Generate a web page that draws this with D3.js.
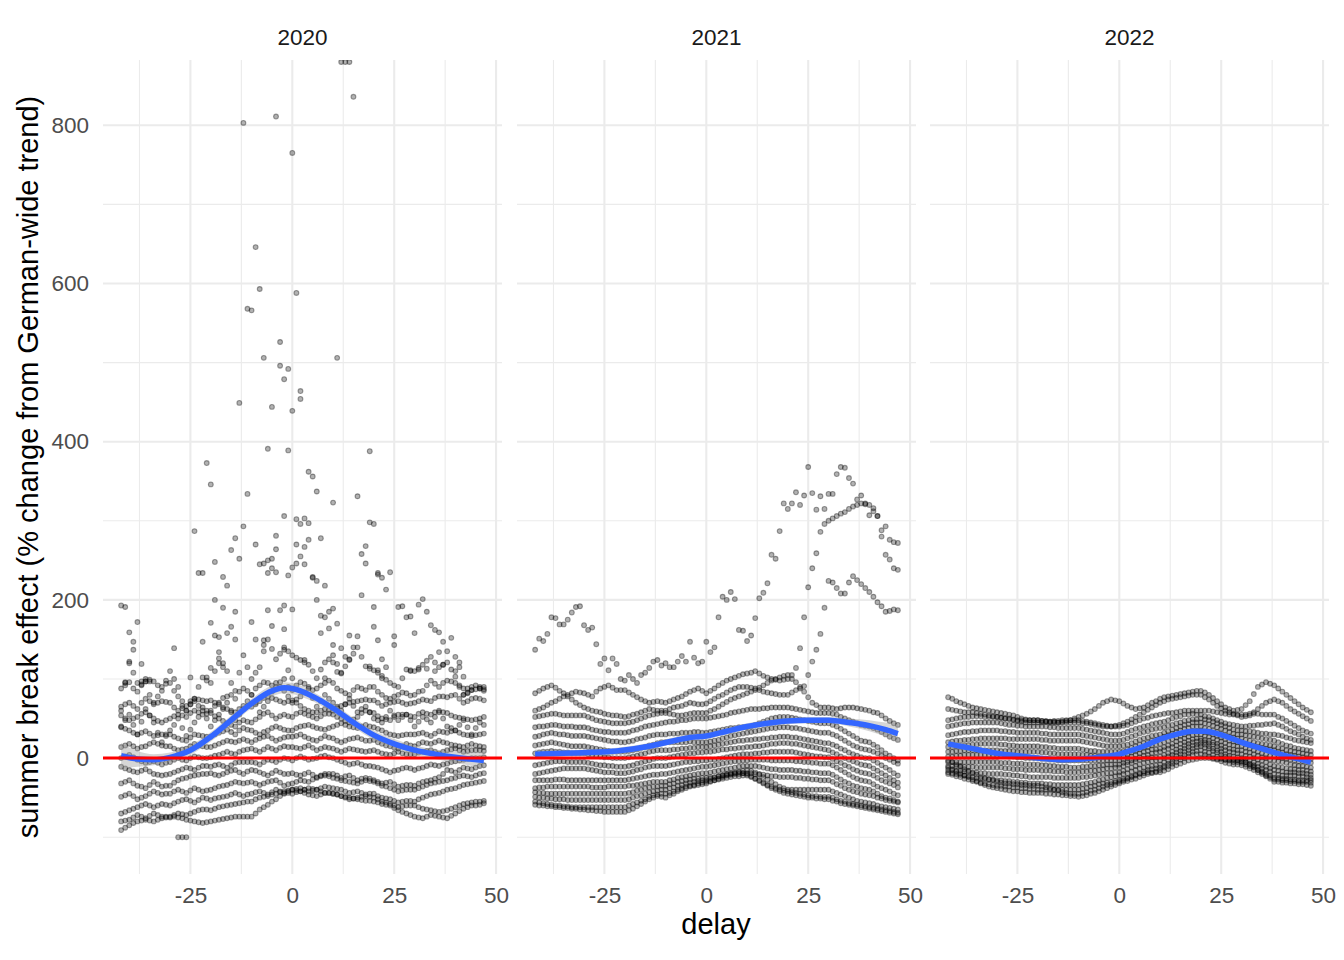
<!DOCTYPE html>
<html>
<head>
<meta charset="utf-8">
<script src="https://cdn.jsdelivr.net/npm/d3@7"></script>
<style>
  body { margin: 0; background: #fff; }
  text { font-family: "Liberation Sans", Arial, Helvetica, sans-serif; }
</style>
</head>
<body>
<svg id="chart"></svg>
<script>
var years = ["2020", "2021", "2022"]
var xTicks = [-25, 0, 25, 50]
var xMinor = [-37.5, -12.5, 12.5, 37.5]
var yTicks = [0, 200, 400, 600, 800]
var yMinor = [-100, 100, 300, 500, 700]

// delays the tracks are read at: even days, then odd days
var delays = [-42,-40,-38,-36,-34,-32,-30,-28,-26,-24,-22,-20,-18,-16,-14,-12,-10,-8,-6,-4,-2,0,2,4,6,8,10,12,14,16,18,20,22,24,26,28,30,32,34,36,38,40,42,44,46]
var oddDelays = [-41,-39,-37,-35,-33,-31,-29,-27,-25,-23,-21,-19,-17,-15,-13,-11,-9,-7,-5,-3,-1,1,3,5,7,9,11,13,15,17,19,21,23,25,27,29,31,33,35,37,39,41,43,45,47]

// 2020: one row per state (even days)
var tracks2020 = [
  [88,96,84,97,97,90,95,78,60,72,64,60,70,78,75,88,80,92,95,90,100,86,96,90,88,95,95,85,80,90,86,90,80,75,80,82,80,85,98,90,98,95,88,90,90],
  [65,70,62,75,68,72,70,60,66,75,73,73,68,62,58,66,65,72,78,74,70,73,66,60,58,62,60,66,70,72,74,73,66,70,72,68,70,74,72,78,77,80,70,75,75],
  [54,48,52,58,50,45,50,55,52,60,55,57,50,44,40,48,45,52,58,50,55,52,58,54,50,56,55,50,45,52,60,57,50,48,55,55,52,58,55,60,57,52,50,48,50],
  [39,35,30,34,28,30,30,25,22,30,28,27,32,36,30,38,35,30,35,40,36,35,40,42,38,36,40,44,40,38,42,39,35,30,28,30,30,32,28,34,32,35,30,28,30],
  [14,18,12,15,20,16,15,10,12,18,15,14,18,22,20,24,20,25,28,22,26,27,30,25,22,28,25,20,24,26,22,23,18,15,12,18,15,20,18,22,19,16,14,18,15],
  [0,4,-2,-6,-4,-8,-5,0,-3,2,0,1,4,8,5,10,12,8,14,10,15,14,12,16,10,14,12,8,12,10,8,10,6,4,8,5,5,8,10,6,10,12,8,10,10],
  [-11,-15,-18,-14,-20,-22,-20,-16,-12,-15,-10,-11,-8,-12,-6,-5,-5,-8,-2,-5,0,-3,2,-2,0,3,0,-4,-8,-6,-10,-11,-14,-18,-15,-12,-15,-12,-8,-10,-7,-4,-2,0,0],
  [-32,-28,-35,-38,-30,-36,-35,-28,-25,-22,-20,-19,-22,-18,-15,-20,-15,-18,-22,-16,-20,-19,-22,-18,-24,-20,-20,-25,-22,-28,-25,-28,-32,-30,-36,-34,-35,-30,-28,-24,-15,-18,-12,-14,-10],
  [-49,-45,-52,-48,-42,-46,-45,-40,-44,-38,-42,-40,-36,-34,-30,-32,-30,-34,-30,-28,-35,-32,-28,-30,-25,-22,-25,-28,-30,-32,-28,-30,-35,-38,-42,-40,-40,-36,-32,-30,-28,-25,-22,-24,-20],
  [-70,-66,-62,-58,-62,-58,-60,-55,-52,-56,-50,-53,-50,-48,-44,-48,-45,-42,-46,-40,-44,-45,-42,-38,-40,-36,-38,-40,-44,-42,-46,-45,-50,-52,-56,-54,-55,-50,-46,-44,-40,-38,-34,-32,-30],
  [-80,-78,-72,-76,-70,-74,-75,-70,-72,-68,-65,-66,-62,-60,-58,-56,-55,-50,-48,-45,-42,-40,-42,-46,-48,-44,-45,-48,-52,-50,-48,-50,-55,-58,-62,-60,-60,-64,-66,-68,-66,-62,-58,-56,-55],
  [-91,-85,-80,-78,-80,-76,-74,-75,-78,-80,-82,-80,-78,-76,-74,-74,-74,-65,-59,-52,-45,-40,-38,-42,-40,-44,-45,-48,-50,-52,-54,-55,-58,-60,-66,-70,-74,-76,-72,-74,-76,-70,-64,-60,-59],
  [60,120,95,100,70,85,110,90,60,75,102,95,120,110,85,130,100,115,150,125,140,130,124,118,101,121,130,108,125,140,116,111,104,95,90,112,110,118,128,115,121,103,80,86,88],
  [40,55,30,62,45,20,35,50,28,45,60,40,55,70,48,62,80,58,72,95,85,70,78,88,65,80,70,60,75,58,65,50,45,60,48,55,40,52,45,58,40,35,48,30,45]
]
// 2020, same states, odd days
var tracks2020Odd = [
  [92,88,93,99,92,94,85,66,68,66,60,66,76,80,84,85,88,96,92,96,90,92,94,86,92,98,88,82,86,88,90,84,76,78,83,79,84,92,94,95,97,90,88,92,87],
  [68,66,70,72,70,71,64,63,72,74,72,70,64,60,62,66,68,76,76,72,72,70,62,58,60,61,63,68,71,73,73,70,68,71,70,69,72,73,76,78,79,75,72,76,73],
  [50,50,56,54,47,48,53,54,57,58,56,53,47,42,45,46,49,56,54,53,53,56,56,52,53,56,52,47,49,57,58,53,49,52,55,53,56,56,58,58,54,51,49,49,52],
  [37,32,32,31,29,30,27,23,26,29,27,30,34,33,35,36,32,33,38,38,35,38,41,40,37,38,42,42,39,40,40,37,32,29,29,30,31,30,31,33,34,32,29,29,31],
  [16,15,14,18,18,15,12,11,15,16,14,16,20,21,22,22,23,27,25,24,27,28,27,23,25,26,22,22,25,24,22,20,16,13,15,16,18,19,20,20,17,15,16,16,14],
  [2,1,-4,-5,-6,-6,-2,-2,0,1,0,3,6,6,8,11,10,11,12,13,14,13,14,13,12,13,10,10,11,9,9,8,5,6,6,5,7,9,8,8,11,10,9,10,9],
  [-13,-17,-16,-17,-21,-21,-18,-14,-13,-12,-10,-9,-10,-9,-5,-5,-6,-5,-3,-2,-1,0,0,-1,2,1,-2,-6,-7,-8,-10,-12,-16,-16,-13,-13,-13,-10,-9,-8,-5,-3,-1,0,1],
  [-30,-32,-36,-34,-33,-35,-31,-26,-23,-21,-20,-21,-20,-16,-18,-17,-16,-20,-19,-18,-20,-21,-20,-21,-22,-20,-22,-23,-25,-26,-26,-30,-31,-33,-35,-34,-32,-29,-26,-20,-16,-15,-13,-12,-9],
  [-47,-48,-50,-45,-44,-45,-42,-42,-41,-40,-41,-38,-35,-32,-31,-31,-32,-32,-29,-31,-33,-30,-29,-27,-23,-23,-26,-29,-31,-30,-29,-32,-36,-40,-41,-40,-38,-34,-31,-29,-26,-23,-23,-22,-19],
  [-68,-64,-60,-60,-60,-59,-57,-53,-54,-53,-51,-51,-49,-46,-46,-46,-43,-44,-43,-42,-44,-43,-40,-39,-38,-37,-39,-42,-43,-44,-45,-48,-51,-54,-55,-54,-52,-48,-45,-42,-39,-36,-33,-31,-29],
  [-79,-75,-74,-73,-72,-74,-72,-71,-70,-66,-65,-64,-61,-59,-57,-55,-52,-49,-46,-43,-41,-41,-44,-47,-46,-44,-46,-50,-51,-49,-49,-52,-56,-60,-61,-60,-62,-65,-67,-67,-64,-60,-57,-55,-54],
  [-88,-82,-79,-79,-78,-75,-74,-76,-79,-81,-81,-79,-77,-75,-74,-74,-70,-62,-55,-48,-42,-39,-40,-41,-42,-44,-46,-49,-51,-53,-54,-56,-59,-63,-68,-72,-75,-74,-73,-75,-73,-67,-62,-60,-57],
  [95,108,92,80,78,98,100,72,68,90,98,110,115,95,108,115,108,135,138,132,135,127,121,110,112,125,119,116,132,128,113,108,99,92,101,111,114,123,121,118,112,92,83,87,85],
  [48,42,46,54,32,28,42,38,36,52,50,48,62,58,55,72,70,65,84,90,78,74,83,76,72,75,65,68,66,62,58,48,52,54,52,48,46,49,52,50,38,42,39,38,42]
]

// 2020: scattered high values, [delay, effect]
var extra2020 = [
  [12,880],[13,880],[14,880],[15,836],[-12,803],[-4,811],[0,765],[-9,646],[-8,593],[1,588],[-11,568],[-10,566],
  [-3,526],[-7,506],[11,506],[-3,496],[-1,492],[-2,479],[2,464],[2,454],[-13,449],[-5,444],[0,439],[-6,391],
  [-1,389],[19,388],[-21,373],[-20,346],[-11,334],[4,362],[5,356],[6,337],[10,323],[16,331],[-2,306],[1,302],
  [3,303],[2,296],[4,297],[19,298],[20,296],[-24,287],[-12,293],[-14,278],[-9,270],[-4,281],[-4,264],[1,270],
  [3,267],[4,276],[7,278],[18,268],[17,258],[18,246],[-15,263],[-13,252],[-19,248],[-8,245],[-7,246],[-6,250],
  [-5,252],[-6,234],[-4,235],[-5,240],[0,241],[1,246],[3,245],[2,255],[-23,234],[-22,234],[-17,229],[-1,231],
  [5,229],[21,234],[22,228],[24,235],[-16,218],[-19,200],[-17,190],[-14,185],[-20,171],[-19,155],[-18,153],
  [-16,158],[-14,150],[-15,166],[-22,147],[-18,134],[-18,126],[-20,114],[-17,120],[-21,102],[-25,102],[-29,139],
  [-10,172],[-9,150],[-7,149],[-7,143],[-6,187],[-5,167],[-3,187],[-2,193],[-2,163],[0,188],[-2,137],[-1,111],
  [0,101],[5,228],[6,224],[8,218],[6,200],[7,180],[8,178],[9,185],[10,189],[11,170],[7,158],[9,164],[10,143],
  [12,139],[14,155],[16,154],[15,140],[13,128],[14,124],[10,121],[11,109],[12,107],[3,124],[8,101],[17,206],
  [20,191],[21,232],[23,213],[21,149],[20,166],[19,116],[21,111],[22,125],[23,115],[22,101],[25,154],[25,143],
  [26,191],[27,192],[28,178],[29,179],[30,158],[31,194],[32,201],[33,185],[34,168],[35,162],[36,159],[37,147],
  [39,152],[36,134],[38,135],[40,128],[41,121],[41,115],[40,110],[42,103],[29,110],[31,112],[33,113],[35,110],
  [37,118],[46,88],[47,90],[44,86],[43,82],[42,80],[-42,193],[-41,191],[-40,159],[-39,147],[-39,137],[-38,172],
  [-37,119],[-40,122],[-41,96],[-37,97],[-36,97],[-35,97],[-28,-100],[-27,-100],[-26,-100]
]

var tracks2021 = [
  [137,148,178,169,175,191,168,165,119,111,119,98,100,105,114,124,120,115,129,147,120,147,140,204,210,162,148,177,209,257,287,315,336,332,335,331,334,359,367,347,332,307,306,293,273],
  [60,64,70,75,80,84,82,78,88,92,86,86,80,74,70,72,70,74,78,84,88,82,88,95,100,104,107,110,104,100,98,100,114,178,240,286,300,306,311,318,322,320,306,257,240],
  [82,88,92,85,78,70,64,60,58,55,54,52,55,58,62,60,60,64,66,70,68,69,75,80,86,90,90,88,84,82,80,80,86,91,122,157,224,215,208,230,220,210,197,185,188],
  [52,54,56,55,54,54,54,50,47,45,44,44,46,50,54,56,57,55,54,56,57,57,62,68,74,78,82,86,92,98,102,105,96,84,70,64,64,62,64,64,62,60,57,50,44],
  [39,40,42,41,40,39,39,36,34,33,32,32,35,38,41,43,45,46,48,49,50,50,52,54,57,59,61,62,63,64,64,64,62,60,58,57,57,55,50,46,42,40,36,30,25],
  [27,30,32,30,29,28,28,26,24,22,21,20,22,25,28,30,30,31,32,32,33,32,34,36,38,39,39,42,46,50,52,52,50,48,46,44,44,40,34,28,22,20,14,6,0],
  [16,18,20,18,16,15,15,13,11,9,8,8,10,13,16,19,20,20,20,21,20,20,22,25,28,30,32,34,36,38,39,39,38,36,34,32,32,28,22,16,12,10,6,0,-5],
  [6,8,9,8,7,6,6,4,2,1,0,0,2,5,8,10,10,11,12,13,14,14,16,18,20,22,23,24,25,26,27,27,26,24,22,20,19,15,10,5,1,0,-6,-12,-19],
  [-9,-7,-5,-4,-5,-5,-5,-7,-9,-10,-11,-11,-9,-6,-3,0,0,2,4,6,7,8,9,11,12,13,14,15,16,18,19,19,18,16,14,12,10,5,0,-4,-8,-10,-16,-22,-28],
  [-20,-18,-16,-14,-13,-13,-13,-15,-17,-18,-19,-19,-17,-14,-11,-10,-10,-8,-6,-5,-4,-3,-2,0,2,4,5,6,7,8,8,8,7,5,3,2,1,-4,-9,-14,-18,-20,-25,-30,-34],
  [-28,-28,-28,-27,-28,-28,-28,-28,-28,-28,-28,-28,-26,-24,-22,-21,-20,-18,-16,-14,-12,-11,-9,-7,-5,-4,-3,-2,-2,-3,-3,-3,-4,-5,-6,-7,-7,-12,-18,-24,-28,-30,-36,-40,-45],
  [-38,-37,-36,-36,-36,-36,-36,-37,-37,-36,-36,-36,-35,-33,-31,-30,-30,-27,-24,-22,-20,-19,-17,-15,-13,-11,-10,-10,-12,-14,-15,-15,-16,-17,-18,-19,-19,-24,-30,-35,-38,-40,-45,-50,-53],
  [-43,-44,-45,-45,-45,-45,-45,-45,-45,-45,-45,-45,-43,-40,-37,-36,-35,-32,-29,-27,-26,-25,-24,-22,-21,-20,-19,-20,-21,-23,-24,-24,-25,-26,-27,-28,-28,-33,-38,-42,-45,-47,-50,-53,-55],
  [-49,-50,-51,-52,-53,-53,-53,-53,-53,-53,-53,-53,-50,-47,-43,-41,-40,-37,-34,-31,-29,-28,-25,-22,-19,-17,-15,-18,-24,-30,-36,-40,-40,-40,-40,-40,-40,-44,-48,-52,-55,-57,-60,-62,-64],
  [-55,-57,-59,-60,-61,-62,-62,-62,-62,-62,-62,-62,-58,-54,-49,-46,-45,-42,-38,-35,-32,-30,-28,-26,-24,-23,-22,-26,-31,-36,-40,-42,-44,-46,-48,-49,-49,-52,-55,-58,-60,-62,-64,-66,-68],
  [-59,-60,-61,-62,-63,-64,-65,-66,-67,-68,-68,-68,-64,-58,-52,-48,-50,-45,-40,-36,-34,-32,-28,-24,-20,-18,-20,-26,-32,-38,-42,-45,-47,-49,-50,-51,-52,-55,-58,-60,-62,-64,-66,-68,-70]
]
var tracks2021Odd = [
  [151,157,177,169,184,192,162,144,126,126,100,105,95,108,122,117,115,122,122,127,122,134,178,200,201,161,155,202,221,252,322,322,320,368,314,315,334,368,354,327,322,316,288,276,272],
  [62,67,72,78,82,83,80,84,90,89,86,83,77,72,71,71,72,76,81,86,85,85,92,98,102,106,108,107,102,99,99,105,139,216,259,296,303,309,315,320,321,312,280,251,238],
  [85,90,89,82,74,67,62,59,56,54,53,53,56,60,61,60,62,65,68,69,68,72,78,83,88,90,89,86,83,81,80,83,88,105,137,190,222,208,222,225,215,204,192,186,187],
  [53,55,56,54,54,54,52,48,46,44,44,45,48,52,55,57,56,54,55,57,57,60,65,71,76,80,84,89,95,100,104,100,90,77,67,64,63,63,64,63,61,58,54,47,42],
  [40,41,42,40,40,39,38,35,33,32,32,33,36,40,42,44,46,47,48,50,50,51,53,55,58,60,62,62,63,64,64,63,61,59,57,57,56,52,48,44,41,38,33,27,23],
  [28,31,31,30,28,28,27,25,23,21,20,21,24,26,29,30,31,31,32,33,32,33,35,37,38,39,40,44,48,51,52,51,49,47,45,44,42,37,31,25,21,17,10,3,-3],
  [17,19,19,17,15,15,14,12,10,8,8,9,11,14,17,20,20,20,20,20,20,21,23,26,29,31,33,35,37,38,39,38,37,35,33,32,30,25,19,14,11,8,3,-2,-7],
  [7,8,8,7,6,6,5,3,1,0,0,1,3,6,9,10,10,11,12,13,14,15,17,19,21,22,23,24,25,26,27,26,25,23,21,19,17,12,7,3,0,-3,-9,-15,-22],
  [-8,-6,-4,-4,-5,-5,-6,-8,-9,-10,-11,-10,-7,-4,-1,0,1,3,5,6,7,8,10,11,12,13,14,15,17,18,19,18,17,15,13,11,7,2,-2,-6,-9,-13,-19,-25,-31],
  [-19,-17,-15,-13,-13,-13,-14,-16,-18,-18,-19,-18,-15,-12,-10,-10,-9,-7,-5,-4,-3,-2,-1,1,3,5,5,6,7,8,8,8,6,4,2,1,-1,-6,-11,-16,-19,-22,-28,-32,-37],
  [-28,-28,-27,-27,-28,-28,-28,-28,-28,-28,-28,-27,-25,-23,-21,-20,-19,-17,-15,-13,-11,-10,-8,-6,-4,-3,-2,-2,-2,-3,-3,-3,-4,-5,-6,-7,-9,-15,-21,-26,-29,-33,-38,-42,-47],
  [-37,-36,-36,-36,-36,-36,-36,-37,-37,-36,-36,-35,-34,-32,-30,-30,-28,-25,-23,-21,-19,-18,-16,-14,-12,-10,-10,-11,-13,-14,-15,-15,-16,-17,-18,-19,-21,-27,-32,-36,-39,-42,-48,-51,-55],
  [-44,-45,-45,-45,-45,-45,-45,-45,-45,-45,-45,-44,-41,-38,-36,-35,-33,-30,-28,-26,-25,-24,-23,-21,-20,-19,-19,-20,-22,-23,-24,-24,-25,-26,-27,-28,-30,-35,-40,-43,-46,-48,-51,-54,-56],
  [-50,-51,-52,-52,-53,-53,-53,-53,-53,-53,-53,-52,-48,-45,-42,-40,-38,-35,-32,-30,-28,-26,-23,-20,-18,-16,-16,-21,-27,-33,-38,-40,-40,-40,-40,-40,-42,-46,-50,-54,-56,-58,-61,-63,-65],
  [-56,-58,-60,-61,-62,-62,-62,-62,-62,-62,-62,-60,-56,-52,-47,-45,-44,-40,-36,-34,-31,-29,-27,-25,-23,-22,-24,-28,-34,-38,-41,-43,-45,-47,-48,-49,-50,-54,-57,-59,-61,-63,-65,-67,-69],
  [-60,-61,-62,-63,-64,-65,-66,-67,-68,-68,-68,-66,-61,-55,-50,-49,-47,-42,-38,-35,-33,-30,-26,-22,-19,-19,-23,-29,-35,-40,-44,-46,-48,-50,-51,-52,-54,-57,-59,-61,-63,-65,-67,-69,-71]
]

var tracks2022 = [
  [77,72,68,64,62,60,58,56,54,50,48,48,46,45,46,48,52,56,62,70,74,72,66,62,64,70,75,78,80,82,84,85,80,72,64,60,62,72,90,96,92,84,76,68,61],
  [62,60,58,58,56,54,52,50,49,48,48,48,47,46,45,45,45,44,42,40,40,42,46,52,58,64,70,74,76,78,80,80,74,66,60,56,52,54,62,70,74,70,62,56,50],
  [48,50,52,53,53,52,52,50,48,46,45,45,46,47,48,48,48,46,44,42,40,40,42,46,50,53,55,57,58,60,60,60,60,58,56,55,55,56,56,55,55,50,44,38,33],
  [40,42,44,45,45,45,45,43,42,41,40,40,40,39,38,38,38,36,34,32,30,30,33,37,40,43,45,48,52,55,56,55,52,48,44,42,40,41,42,43,44,40,34,30,25],
  [29,31,33,34,35,35,35,34,33,32,32,32,31,30,30,30,30,28,26,24,22,22,25,29,33,36,38,41,44,47,49,50,48,44,40,36,35,34,32,31,30,28,25,22,20],
  [20,22,23,24,25,25,25,25,24,24,24,24,23,22,22,22,22,20,18,16,15,15,17,21,25,28,30,34,38,42,45,45,43,39,35,31,30,28,26,24,22,18,15,12,10],
  [14,15,16,17,18,18,18,17,16,15,15,15,14,13,12,12,12,10,9,8,8,8,11,15,19,22,25,29,33,37,40,40,37,33,29,26,25,22,19,17,15,12,9,7,5],
  [8,9,10,10,10,10,10,9,9,8,8,8,7,6,5,5,5,4,3,2,2,2,5,9,13,16,18,22,26,30,34,35,32,28,24,21,20,17,14,12,10,7,4,2,0],
  [2,3,4,4,4,4,4,3,2,1,0,0,-1,-2,-3,-3,-3,-3,-3,-3,-3,-3,0,4,8,11,12,16,21,25,29,30,27,23,19,16,15,12,8,5,2,0,-2,-4,-5],
  [-5,-5,-5,-5,-5,-5,-5,-6,-7,-7,-8,-8,-9,-10,-11,-12,-12,-11,-10,-9,-8,-8,-5,-1,3,6,8,12,16,20,24,25,22,18,14,11,10,7,3,0,-3,-5,-8,-10,-11],
  [-10,-10,-11,-11,-12,-12,-12,-13,-14,-14,-15,-15,-16,-17,-17,-18,-18,-17,-16,-14,-13,-12,-8,-4,-1,1,2,6,11,16,20,22,19,15,10,7,5,2,-2,-5,-10,-12,-14,-15,-16],
  [-15,-16,-17,-18,-19,-20,-20,-21,-22,-23,-24,-24,-24,-25,-25,-25,-25,-24,-22,-20,-19,-18,-14,-10,-6,-4,-3,2,7,12,16,18,15,10,5,2,0,-3,-7,-11,-15,-17,-18,-19,-20],
  [-18,-20,-22,-24,-26,-27,-28,-29,-30,-31,-32,-32,-33,-34,-34,-34,-34,-32,-30,-27,-24,-22,-19,-15,-12,-10,-8,-3,3,8,12,15,12,7,2,-2,-4,-7,-11,-15,-20,-22,-22,-23,-24],
  [-20,-23,-26,-29,-31,-33,-35,-36,-37,-38,-39,-40,-40,-40,-40,-40,-40,-38,-35,-32,-30,-28,-25,-21,-17,-14,-12,-7,-1,4,8,10,7,2,-2,-5,-6,-10,-15,-20,-25,-26,-27,-28,-28],
  [-12,-17,-22,-27,-32,-36,-38,-40,-42,-43,-44,-44,-45,-46,-47,-48,-49,-47,-44,-40,-36,-32,-29,-26,-22,-19,-15,-10,-5,0,4,5,2,-2,-6,-8,-9,-13,-18,-23,-30,-31,-32,-33,-34],
  [-3,-8,-14,-19,-24,-27,-30,-32,-33,-34,-35,-35,-37,-40,-43,-45,-45,-43,-40,-36,-33,-30,-26,-22,-19,-18,-18,-14,-9,-5,-2,0,0,-1,-2,-2,-2,-8,-15,-22,-27,-28,-29,-30,-30]
]
var tracks2022Odd = [
  [75,70,66,63,61,59,57,55,52,49,48,47,45,45,47,50,54,59,66,72,73,69,64,63,67,72,77,79,81,83,85,83,76,68,62,61,67,81,93,94,88,80,72,64,58],
  [61,59,58,57,55,53,51,50,48,48,48,47,46,45,45,45,44,43,41,40,41,44,49,55,61,67,72,75,77,79,80,77,70,63,58,54,53,58,66,72,72,66,59,53,47],
  [49,51,52,53,52,52,51,49,47,45,45,45,46,47,48,48,47,45,43,41,40,41,44,48,51,54,56,57,59,60,60,60,59,57,55,55,55,56,55,55,52,47,41,35,31],
  [41,43,44,45,45,45,44,42,41,40,40,40,39,38,38,38,37,35,33,31,30,31,35,38,41,44,46,50,53,55,55,53,50,46,43,41,40,41,42,43,42,37,32,27,23],
  [30,32,33,34,35,35,34,33,32,32,32,31,30,30,30,30,29,27,25,23,22,23,27,31,34,37,39,42,45,48,49,49,46,42,38,35,34,33,31,30,29,26,23,21,19],
  [21,22,23,24,25,25,25,24,24,24,24,23,22,22,22,22,21,19,17,15,15,16,19,23,26,29,32,36,40,43,45,44,41,37,33,30,29,27,25,23,20,16,13,11,9],
  [14,15,16,17,18,18,17,16,15,15,15,14,13,12,12,12,11,9,8,8,8,9,13,17,20,23,27,31,35,38,40,38,35,31,27,25,23,20,18,16,13,10,8,6,4],
  [8,9,10,10,10,10,9,9,8,8,8,7,6,5,5,5,4,3,2,2,2,3,7,11,14,17,20,24,28,32,34,33,30,26,22,20,18,15,13,11,8,5,3,1,-1],
  [2,3,4,4,4,4,3,2,1,0,0,-1,-2,-3,-3,-3,-3,-3,-3,-3,-3,-2,2,6,9,11,14,18,23,27,30,28,25,21,17,15,13,10,6,3,1,-1,-3,-4,-6],
  [-5,-5,-5,-5,-5,-5,-6,-6,-7,-8,-8,-9,-10,-11,-11,-12,-11,-10,-9,-8,-8,-6,-3,1,4,7,10,14,18,22,25,23,20,16,12,10,8,5,1,-2,-4,-6,-9,-10,-12],
  [-10,-10,-11,-12,-12,-12,-12,-13,-14,-15,-15,-16,-16,-17,-18,-18,-17,-16,-15,-13,-12,-10,-6,-2,0,1,4,8,13,18,21,20,17,12,8,6,3,0,-3,-8,-11,-13,-14,-15,-17],
  [-15,-16,-17,-18,-19,-20,-20,-21,-22,-23,-24,-24,-24,-25,-25,-25,-24,-23,-21,-19,-18,-16,-12,-8,-5,-3,0,4,9,14,17,17,12,8,3,1,-1,-5,-9,-13,-16,-18,-18,-19,-21],
  [-19,-21,-23,-25,-26,-27,-28,-29,-30,-31,-32,-32,-33,-34,-34,-34,-33,-31,-28,-25,-23,-20,-17,-13,-11,-9,-5,0,5,10,14,13,9,4,0,-3,-5,-9,-13,-17,-21,-22,-22,-23,-25],
  [-21,-24,-27,-30,-32,-34,-35,-36,-37,-38,-39,-40,-40,-40,-40,-40,-39,-36,-33,-31,-29,-26,-23,-19,-15,-13,-10,-4,1,6,9,8,4,0,-3,-5,-8,-12,-17,-22,-25,-26,-27,-28,-28],
  [-14,-19,-24,-29,-34,-37,-39,-41,-42,-43,-44,-44,-45,-46,-47,-48,-48,-45,-42,-38,-34,-30,-27,-24,-20,-17,-12,-7,-2,2,5,4,0,-4,-7,-8,-11,-15,-20,-26,-30,-31,-32,-33,-35],
  [-5,-11,-16,-21,-25,-28,-31,-32,-33,-34,-35,-36,-38,-41,-44,-45,-44,-41,-38,-34,-31,-28,-24,-20,-18,-18,-16,-11,-7,-3,-1,0,-1,-1,-2,-2,-5,-11,-18,-24,-27,-28,-29,-30,-31]
]

// loess fits: [delay, fit, half-width of band]
var smooth2020 = [[-42,3,16],[-38,-1,10],[-34,-2,7],[-30,1,6],[-25,10,6],[-20,27,6],[-15,48,6],[-10,69,6],[-5,85,7],[-2,89,7],[0,88,7],[2,85,7],[5,78,6],[10,63,6],[15,45,6],[20,29,6],[25,18,6],[30,10,6],[35,5,6],[40,1,7],[47,-3,10]]
var smooth2021 = [[-42,5,6],[-35,6,4],[-30,7,4],[-22,9,4],[-14,15,4],[-8,22,4],[-4,26,4],[0,28,4],[5,34,4],[10,40,4],[15,44,4],[20,47,4],[25,48,4],[30,48,4],[35,45,5],[40,41,7],[44,36,9],[47,31,12]]
var smooth2022 = [[-42,18,5],[-38,14,4],[-34,10,3],[-30,6,3],[-25,3,3],[-20,0,3],[-14,-2,3],[-10,-1.5,3],[-5,1,3],[0,5,3],[2.5,9,3],[6,15,3],[10,24,3],[14,30,3],[18,34,3],[21,34,3],[24,31,3],[27,26,3],[30,20,3],[35,12,3],[40,4,3],[44,-1,4],[47,-5,5]]

var panelData = [
  { year: years[0], tracks: tracks2020, odd: tracks2020Odd, extra: extra2020, smooth: smooth2020 },
  { year: years[1], tracks: tracks2021, odd: tracks2021Odd, extra: [], smooth: smooth2021 },
  { year: years[2], tracks: tracks2022, odd: tracks2022Odd, extra: [], smooth: smooth2022 }
]

var dimensions = {
  width: 1344,
  height: 960,
  panelTop: 60,
  panelBottom: 874,
  panelWidth: 399,
  panelLefts: [103, 517, 930]
}

var svg = d3.select("#chart")
  .attr("width", dimensions.width)
  .attr("height", dimensions.height)

var yScale = d3.scaleLinear()
  .domain([-146.5, 882.5])
  .range([dimensions.panelBottom, dimensions.panelTop])

var gridColor = "#EBEBEB"
var labelFont = "'Liberation Sans', Arial, sans-serif"

panelData.forEach(function(p, k) {
  var left = dimensions.panelLefts[k]
  var xScale = d3.scaleLinear()
    .domain([-46.45, 51.45])
    .range([left, left + dimensions.panelWidth])

  var g = svg.append("g")

  // grid
  g.selectAll(".ymin").data(yMinor).enter().append("line")
    .attr("x1", left).attr("x2", left + dimensions.panelWidth)
    .attr("y1", d => yScale(d)).attr("y2", d => yScale(d))
    .attr("stroke", gridColor).attr("stroke-width", 1.1)
  g.selectAll(".xmin").data(xMinor).enter().append("line")
    .attr("x1", d => xScale(d)).attr("x2", d => xScale(d))
    .attr("y1", dimensions.panelTop).attr("y2", dimensions.panelBottom)
    .attr("stroke", gridColor).attr("stroke-width", 1.1)
  g.selectAll(".ymaj").data(yTicks).enter().append("line")
    .attr("x1", left).attr("x2", left + dimensions.panelWidth)
    .attr("y1", d => yScale(d)).attr("y2", d => yScale(d))
    .attr("stroke", gridColor).attr("stroke-width", 2.1)
  g.selectAll(".xmaj").data(xTicks).enter().append("line")
    .attr("x1", d => xScale(d)).attr("x2", d => xScale(d))
    .attr("y1", dimensions.panelTop).attr("y2", dimensions.panelBottom)
    .attr("stroke", gridColor).attr("stroke-width", 2.1)

  var clipId = "clip" + k
  svg.append("clipPath").attr("id", clipId)
    .append("rect")
    .attr("x", left).attr("y", dimensions.panelTop)
    .attr("width", dimensions.panelWidth)
    .attr("height", dimensions.panelBottom - dimensions.panelTop)

  var inner = g.append("g").attr("clip-path", "url(#" + clipId + ")")

  var points = []
  p.tracks.forEach(function(t) {
    t.forEach(function(v, i) { points.push({ x: delays[i], y: v }) })
  })
  p.odd.forEach(function(t) {
    t.forEach(function(v, i) { points.push({ x: oddDelays[i], y: v }) })
  })
  p.extra.forEach(function(d) { points.push({ x: d[0], y: d[1] }) })

  inner.selectAll("circle")
    .data(points)
    .enter()
    .append("circle")
    .attr("cx", d => xScale(d.x))
    .attr("cy", d => yScale(d.y))
    .attr("r", 2.4)
    .attr("fill", "black")
    .attr("fill-opacity", 0.3)
    .attr("stroke", "black")
    .attr("stroke-opacity", 0.38)
    .attr("stroke-width", 1.1)

  var band = d3.area()
    .x(d => xScale(d[0]))
    .y0(d => yScale(d[1] - d[2]))
    .y1(d => yScale(d[1] + d[2]))
    .curve(d3.curveMonotoneX)

  inner.append("path")
    .datum(p.smooth)
    .attr("d", band)
    .attr("fill", "#999999")
    .attr("fill-opacity", 0.4)

  var line = d3.line()
    .x(d => xScale(d[0]))
    .y(d => yScale(d[1]))
    .curve(d3.curveMonotoneX)

  inner.append("path")
    .datum(p.smooth)
    .attr("d", line)
    .attr("fill", "none")
    .attr("stroke", "#3366FF")
    .attr("stroke-width", 5.5)

  inner.append("line")
    .attr("x1", left).attr("x2", left + dimensions.panelWidth)
    .attr("y1", yScale(0)).attr("y2", yScale(0))
    .attr("stroke", "#FF0000")
    .attr("stroke-width", 3)

  // x axis labels (plain hyphen minus, as in the original)
  var xAxisgen = d3.axisBottom().scale(xScale)
    .tickValues(xTicks).tickSize(0).tickPadding(13)
    .tickFormat(d => String(d))
  var xAxis = svg.append("g")
    .attr("transform", `translate(0,${dimensions.panelBottom})`)
    .call(xAxisgen)
  xAxis.select(".domain").remove()
  xAxis.selectAll("text")
    .style("font-size", "22.5px")
    .attr("fill", "#4D4D4D")
    .style("font-family", labelFont)

  // strip label
  svg.append("text")
    .attr("x", left + dimensions.panelWidth / 2)
    .attr("y", 45)
    .attr("text-anchor", "middle")
    .style("font-size", "22.5px")
    .attr("fill", "#1A1A1A")
    .text(p.year)

  if (k === 0) {
    var yAxisgen = d3.axisLeft().scale(yScale)
      .tickValues(yTicks).tickSize(0).tickPadding(14)
      .tickFormat(d => String(d))
    var yAxis = svg.append("g")
      .attr("transform", `translate(${left},0)`)
      .call(yAxisgen)
    yAxis.select(".domain").remove()
    yAxis.selectAll("text")
      .style("font-size", "22.5px")
      .attr("fill", "#4D4D4D")
      .style("font-family", labelFont)
  }
})

svg.append("text")
  .attr("x", 716)
  .attr("y", 934)
  .attr("text-anchor", "middle")
  .style("font-size", "29px")
  .attr("fill", "black")
  .text("delay")

svg.append("text")
  .attr("transform", "translate(38,467) rotate(-90)")
  .attr("text-anchor", "middle")
  .style("font-size", "29px")
  .attr("fill", "black")
  .text("summer break effect (% change from German-wide trend)")
</script>
</body>
</html>
